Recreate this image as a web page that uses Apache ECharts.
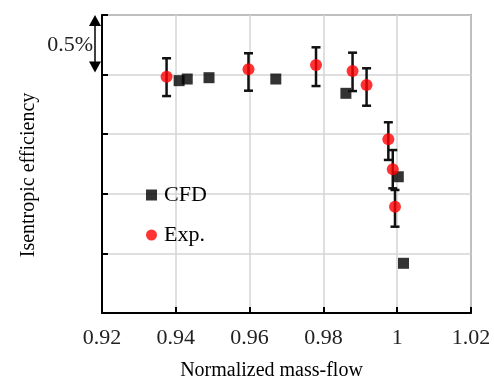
<!DOCTYPE html>
<html><head><meta charset="utf-8">
<script src="https://cdn.jsdelivr.net/npm/echarts@6/dist/echarts.min.js"></script>
<style>html,body{margin:0;padding:0;background:#fff}#c{width:494px;height:381px}</style>
</head><body><div id="c"></div>
<script>
// Data (y in % efficiency, relative units; 0.5% per grid step)
const xTicks = [0.92, 0.94, 0.96, 0.98, 1.00, 1.02];
const cfdX = [0.9409, 0.9431, 0.9490, 0.9671, 0.9861, 1.0003, 1.0017];
const cfdY = [1.949, 1.963, 1.974, 1.963, 1.843, 1.143, 0.417];
const expX = [0.9375, 0.9597, 0.9780, 0.9879, 0.9917, 0.9976, 0.9988, 0.9994];
const expY = [1.982, 2.044, 2.080, 2.030, 1.913, 1.457, 1.206, 0.892];
const expLow = [1.820, 1.865, 1.904, 1.862, 1.739, 1.284, 1.046, 0.724];
const expHigh = [2.137, 2.179, 2.229, 2.184, 2.053, 1.600, 1.367, 1.032];
const scaleLabel = '0.5%';

const FONT = '"Liberation Serif", "Times New Roman", serif';
const chart = echarts.init(document.getElementById('c'), null, {renderer: 'canvas'});

const cfdData = cfdX.map((x, i) => [x, cfdY[i]]);
const expData = expX.map((x, i) => [x, expY[i]]);
const errData = expX.map((x, i) => [x, expLow[i], expHigh[i]]);

chart.setOption({
  animation: false,
  backgroundColor: '#fff',
  textStyle: {fontFamily: FONT},
  grid: {left: 102, right: 23, top: 15, bottom: 68, show: true, borderColor: '#555', borderWidth: 1.5,
    backgroundColor: 'transparent', outerBoundsMode: 'none', containLabel: false},
  legend: {
    orient: 'vertical', left: 141, top: 179, itemGap: 18, itemWidth: 11, itemHeight: 11,
    textStyle: {fontFamily: FONT, fontSize: 22, color: '#000', padding: [0, 0, 0, 2]},
    data: [{name: 'CFD', icon: 'rect'}, {name: 'Exp.', icon: 'circle'}]
  },
  xAxis: {
    type: 'value', min: 0.92, max: 1.02, interval: 0.02,
    name: 'Normalized mass-flow', nameLocation: 'middle', nameGap: 48,
    nameTextStyle: {fontFamily: FONT, fontSize: 20, color: '#000', padding: [0, 30, 0, 0]},
    axisLine: {lineStyle: {color: '#000', width: 2}},
    axisTick: {inside: true, length: 6, lineStyle: {color: '#000', width: 2}},
    axisLabel: {fontFamily: FONT, fontSize: 22, color: '#222', margin: 14,
      formatter: v => { const t = xTicks.find(k => Math.abs(k - v) < 1e-6); return t === undefined ? '' : String(+t.toFixed(2)); }},
    splitLine: {show: true, lineStyle: {color: '#d4d4d4', width: 1.5}}
  },
  yAxis: {
    type: 'value', min: 0, max: 2.5, interval: 0.5,
    name: 'Isentropic efficiency', nameLocation: 'middle', nameGap: 63, nameRotate: 90,
    nameTextStyle: {fontFamily: FONT, fontSize: 20, color: '#000', padding: [0, 22, 0, 0]},
    axisLine: {lineStyle: {color: '#000', width: 2}},
    axisTick: {inside: true, length: 6, lineStyle: {color: '#000', width: 2}},
    axisLabel: {show: false},
    splitLine: {show: true, lineStyle: {color: '#d4d4d4', width: 1.5}}
  },
  series: [
    {name: 'CFD', type: 'scatter', symbol: 'rect', symbolSize: 11, data: cfdData,
      itemStyle: {color: '#000'}, z: 2},
    {name: 'err', type: 'custom', data: errData, encode: {x: 0, y: [1, 2]}, z: 3,
      renderItem: (params, api) => {
        const x = api.value(0), lo = api.value(1), hi = api.value(2);
        const p1 = api.coord([x, hi]), p2 = api.coord([x, lo]);
        const w = 4.5, st = {stroke: '#111', lineWidth: 2.5};
        return {type: 'group', children: [
          {type: 'line', shape: {x1: p1[0], y1: p1[1], x2: p2[0], y2: p2[1]}, style: st},
          {type: 'line', shape: {x1: p1[0] - w, y1: p1[1], x2: p1[0] + w, y2: p1[1]}, style: st},
          {type: 'line', shape: {x1: p2[0] - w, y1: p2[1], x2: p2[0] + w, y2: p2[1]}, style: st}
        ]};
      }},
    {name: 'Exp.', type: 'scatter', symbol: 'circle', symbolSize: 12, data: expData,
      itemStyle: {color: '#ff0000'}, z: 4}
  ]
});

// scale arrow annotation (0.5% = one grid step)
const pTop = chart.convertToPixel({gridIndex: 0}, [0.92, 2.5]);
const pBot = chart.convertToPixel({gridIndex: 0}, [0.92, 2.0]);
const ax = pTop[0] - 7, hw = 6, hh = 11;
chart.setOption({
  graphic: [
    {type: 'line', shape: {x1: ax, y1: pTop[1] + 4, x2: ax, y2: pBot[1] - 4}, style: {stroke: '#000', lineWidth: 1.5}},
    {type: 'polygon', shape: {points: [[ax, pTop[1]], [ax - hw, pTop[1] + hh], [ax + hw, pTop[1] + hh]]}, style: {fill: '#000'}},
    {type: 'polygon', shape: {points: [[ax, pBot[1] - 2], [ax - hw, pBot[1] - 2 - hh], [ax + hw, pBot[1] - 2 - hh]]}, style: {fill: '#000'}},
    {type: 'text', x: ax - 2, y: (pTop[1] + pBot[1]) / 2, style: {text: scaleLabel, fontFamily: FONT, fontSize: 22, fill: '#222', align: 'right', verticalAlign: 'middle'}}
  ]
});
</script>
</body></html>
